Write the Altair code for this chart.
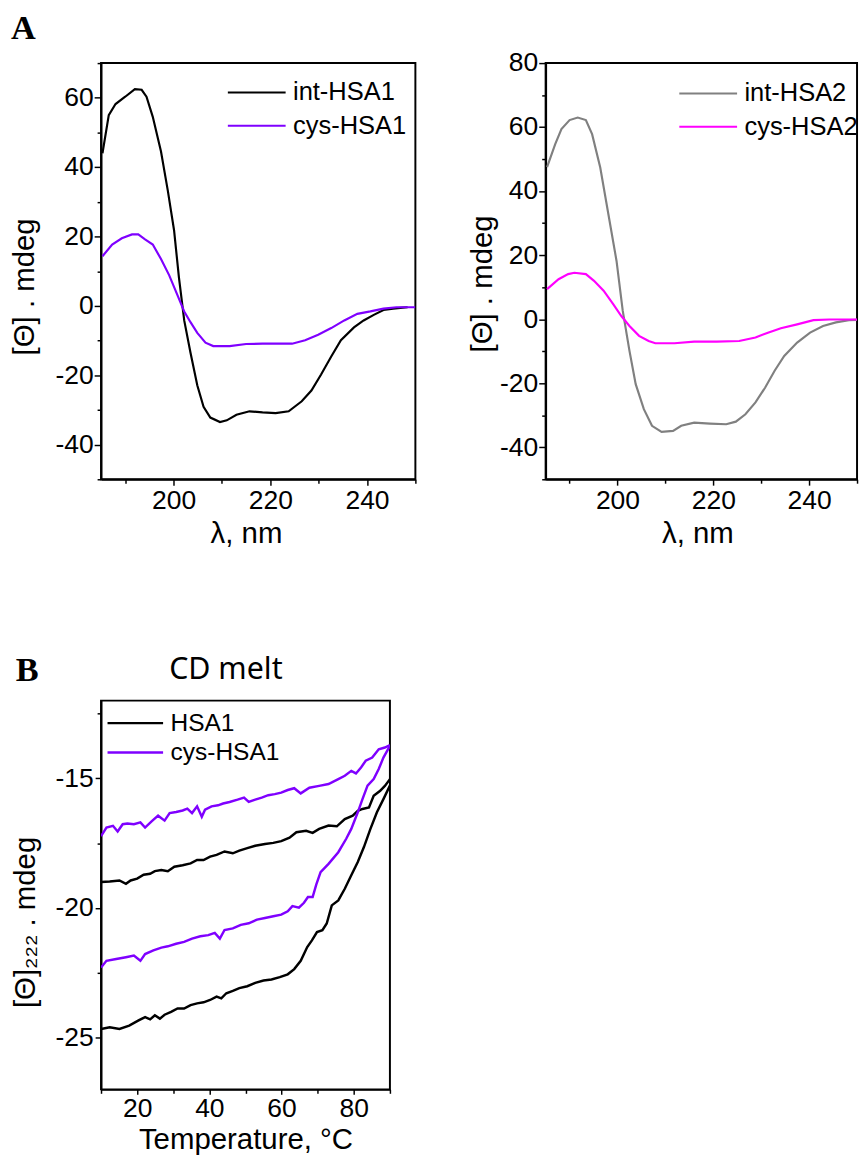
import altair as alt
import pandas as pd

FONT = "Liberation Sans"

# ---------------- Panel A (left): far-UV CD spectra ----------------
a1_int_x = [185.3, 186.6, 188, 190, 192, 193.4, 194.4, 195.7, 197.4, 198.8, 200.1, 201.1, 202.2,
            203.5, 204.9, 206.2, 207.6, 209.6, 211, 213, 215.7, 218.4, 221.1, 223.8, 226.5, 228.5,
            230.5, 232.6, 234.6, 237.3, 239.3, 241.4, 243.4, 245.4, 247.4, 248.4]
a1_int_y = [44, 55, 58.2, 60.3, 62.5, 62.3, 60.3, 54.5, 44.5, 33.3, 21.8, 8.3, -4.2,
            -13.5, -22.9, -29.1, -32.2, -33.5, -33, -31.4, -30.4, -30.7, -30.9, -30.4, -27.5, -24.4,
            -19.8, -14.6, -9.9, -6.2, -4.2, -2.6, -1.2, -0.8, -0.5, -0.4]
a1_cys_x = [185.3, 187.3, 189.3, 191.4, 192.7, 194.1, 195.7, 197.4, 199.1, 200.8, 202.2, 203.5,
            204.9, 206.6, 208.2, 211.6, 215, 218.4, 221.8, 224.5, 227.2, 229.9, 232.6, 235.3, 238,
            240.7, 243.4, 246.1, 250]
a1_cys_y = [14.3, 17.7, 19.5, 20.6, 20.6, 19.2, 17.7, 13.5, 8.8, 3.1, -1.6, -4.7,
            -7.8, -10.6, -11.6, -11.6, -11, -10.9, -10.9, -10.9, -9.9, -8.3, -6.4, -4.2, -2.3,
            -1.6, -0.8, -0.4, -0.4]

# ---------------- Panel A (right) ----------------
a2_int_x = [185.3, 187, 188.3, 190, 191.7, 193.4, 194.7, 196.4, 198.1, 199.8, 201.1, 202.5, 203.8,
            205.5, 207.2, 209.2, 211.6, 213.3, 216, 219.3, 222.7, 224.7, 226.7, 228.8, 230.8, 232.8,
            234.8, 237.5, 240.2, 242.9, 245.6, 248.3, 250]
a2_int_y = [47.5, 54.7, 59.4, 62.2, 63, 62.2, 57.8, 47.4, 32.8, 18.2, 2.6, -9.9, -20.3,
            -28.1, -33.3, -35.2, -34.9, -33.3, -32.3, -32.6, -32.8, -32, -29.7, -26, -21.4, -16.1,
            -11.5, -7.3, -4.2, -2.1, -1, -0.3, -0.2]
a2_cys_x = [185.3, 187.7, 189.7, 191, 193.4, 195.1, 197.1, 199.1, 200.8, 202.5, 204.5, 206.5, 207.9,
            211.9, 216, 220.7, 225.4, 228.8, 231.4, 234.1, 237.5, 240.9, 244.2, 250]
a2_cys_y = [9.4, 12.5, 14.1, 14.5, 14.1, 12, 8.9, 4.7, 1, -2.1, -5.2, -6.8, -7.5,
            -7.5, -7, -7, -6.8, -5.7, -4.2, -2.8, -1.6, -0.3, -0.1, -0.1]

# ---------------- Panel B: CD melt at 222 nm ----------------
b_cys_top_x = [10, 11.5, 13.3, 14.6, 16, 17.3, 19.1, 20.9, 22.2, 24, 25.8, 27.6, 29, 30.8, 32.6, 33.9,
               35.2, 36.6, 37.9, 38.8, 40.6, 42.4, 43.8, 45.6, 47.8, 49.6, 50.9, 52.7, 54.5, 56.3,
               58.1, 59.9, 61.7, 63.5, 65.3, 67.7, 70.4, 73.0, 75.7, 77.5, 79.3, 80.6, 82.0, 83.3,
               85.1, 86.9, 88.6, 90]
b_cys_top_y = [-17.23, -16.9, -16.83, -17.05, -16.77, -16.74, -16.77, -16.7, -16.9, -16.66, -16.44,
               -16.63, -16.34, -16.3, -16.24, -16.17, -16.34, -16.08, -16.48, -16.21, -16.08, -16.04,
               -15.97, -15.91, -15.82, -15.74, -15.91, -15.82, -15.74, -15.65, -15.61, -15.55, -15.45,
               -15.38, -15.58, -15.36, -15.29, -15.22, -15.03, -14.9, -14.71, -14.81, -14.58, -14.32,
               -14.2, -13.88, -13.81, -13.72]
b_hsa_top_x = [10, 12.4, 15.1, 16.9, 18.2, 20, 21.8, 23.6, 24.9, 26.7, 28.5, 30.3, 32.6, 34.8, 36.6,
               38.4, 40.2, 42, 44.2, 46.5, 48.3, 50.5, 52.7, 55.4, 57.7, 59.9, 62.2, 64.1, 66.8, 68.6,
               70.4, 73.0, 75.3, 77.5, 79.7, 81.1, 82.4, 84.2, 85.5, 87.3, 88.6, 90]
b_hsa_top_y = [-19.0, -18.98, -18.94, -19.07, -18.94, -18.87, -18.72, -18.68, -18.58, -18.54, -18.58,
               -18.41, -18.35, -18.28, -18.15, -18.15, -18.02, -17.95, -17.82, -17.89, -17.79, -17.69,
               -17.6, -17.53, -17.49, -17.42, -17.29, -17.08, -17.02, -17.1, -16.95, -16.82, -16.85,
               -16.57, -16.44, -16.25, -16.18, -16.12, -15.67, -15.48, -15.29, -15.03]
b_cys_low_x = [10, 11.5, 14.2, 16.9, 19.1, 20.9, 22.2, 24.5, 26.7, 28.5, 30.8, 33, 35.2, 37.5, 39.7,
               41.5, 42.9, 44.2, 46.5, 48.7, 50.9, 53.2, 55.4, 57.7, 59.9, 61.7, 63, 64.8, 66.2, 67.3,
               68.6, 69.6, 70.8, 73.0, 75.7, 77.9, 79.3, 81.1, 82.4, 83.8, 85.5, 86.9, 88.2, 90]
b_cys_low_y = [-22.3, -22.04, -21.97, -21.9, -21.84, -22.04, -21.78, -21.64, -21.53, -21.48, -21.38,
               -21.31, -21.18, -21.09, -21.05, -20.96, -21.18, -20.85, -20.79, -20.65, -20.59, -20.45,
               -20.39, -20.32, -20.26, -20.13, -19.93, -19.99, -19.8, -19.58, -19.58, -19.1, -18.62,
               -18.3, -17.85, -17.33, -16.95, -16.31, -15.8, -15.28, -15.03, -14.64, -14.2, -13.75]
b_hsa_low_x = [10, 12.4, 15.1, 17.8, 20.4, 22.2, 23.6, 24.9, 26.3, 27.6, 29.4, 31.2, 33, 34.8, 36.6,
               38.4, 40.2, 42, 43.3, 44.7, 46.5, 48.3, 50.5, 52.7, 55, 57.2, 59.5, 61.7, 63.5, 65.3,
               67.1, 68.4, 69.8, 71.3, 72.5, 73.9, 75.7, 77.5, 79.3, 81.1, 82.8, 84.6, 86.4, 88.2, 90]
b_hsa_low_y = [-24.67, -24.6, -24.67, -24.54, -24.34, -24.21, -24.3, -24.14, -24.27, -24.12, -24.01,
               -23.88, -23.88, -23.75, -23.68, -23.64, -23.55, -23.42, -23.49, -23.29, -23.2, -23.09,
               -23.02, -22.89, -22.8, -22.76, -22.67, -22.56, -22.36, -22.04, -21.51, -21.25, -20.93,
               -20.86, -20.6, -19.9, -19.71, -19.26, -18.74, -18.23, -17.65, -16.95, -16.31, -15.8,
               -15.28]

a_x_ticks = [190, 200, 210, 220, 230, 240, 250]
a1_y_ticks = [-50, -40, -30, -20, -10, 0, 10, 20, 30, 40, 50, 60, 70]
a2_y_ticks = [-50, -40, -30, -20, -10, 0, 10, 20, 30, 40, 50, 60, 70, 80]
b_x_ticks = [10, 20, 30, 40, 50, 60, 70, 80, 90]
b_y_ticks = [-25, -22.5, -20, -17.5, -15, -12.5]

VIEW = alt.ViewBackground(stroke="black", strokeWidth=2, fill="white")
LINE_SYMBOL = "M-2.5,0H2.5"


def frame(xs_list, ys_list, names, curves):
    rows = []
    for xs, ys, n, c in zip(xs_list, ys_list, names, curves):
        for x, y in zip(xs, ys):
            rows.append({"x": x, "y": y, "series": n, "curve": c})
    return pd.DataFrame(rows)


def axis(values, major, title, label_size, title_size, tick_major, tick_minor, **kw):
    return alt.Axis(
        values=values,
        labelExpr=f"datum.value % {major} == 0 ? '' + datum.value : ''",
        tickSize={"condition": {"test": f"datum.value % {major} == 0", "value": tick_major},
                  "value": tick_minor},
        title=title, grid=False, labelFont=FONT, titleFont=FONT,
        labelFontSize=label_size, titleFontSize=title_size, titleFontWeight="normal",
        labelColor="black", titleColor="black", domainColor="black", domainWidth=2,
        tickColor="black", tickWidth=1.5, labelFlush=False, labelOverlap=False, **kw)


def legend(lx, ly, size, font_size, row_pad, lab_off, sw=2):
    return alt.Legend(orient="none", legendX=lx, legendY=ly, title=None, padding=0,
                      symbolType=LINE_SYMBOL, symbolSize=size, symbolStrokeWidth=sw,
                      labelFont=FONT, labelFontSize=font_size, labelColor="black",
                      labelOffset=lab_off, rowPadding=row_pad, labelLimit=0)


def spectrum(df, names, colors, ydom, yticks, width, height, lx, ly, lab_off, ytpad, ytY, xtX):
    return alt.Chart(df).mark_line(strokeWidth=2.2, clip=True).encode(
        x=alt.X("x:Q", scale=alt.Scale(domain=[185, 250], nice=False, zero=False),
                axis=axis(a_x_ticks, 20, "λ, nm", 27, 30, 6, 4, labelPadding=3,
                          titlePadding=6, titleX=xtX)),
        y=alt.Y("y:Q", scale=alt.Scale(domain=ydom, nice=False, zero=False),
                axis=axis(yticks, 20, "[Θ] . mdeg", 27, 30, 7, 4, labelPadding=1,
                          titlePadding=ytpad, titleY=ytY)),
        color=alt.Color("series:N", scale=alt.Scale(domain=names, range=colors),
                        legend=legend(lx, ly, 557, 26, 8, lab_off)),
        detail="curve:N",
    ).properties(width=width, height=height, view=VIEW)


df_a1 = frame([a1_int_x, a1_cys_x], [a1_int_y, a1_cys_y], ["int-HSA1", "cys-HSA1"], ["a", "b"])
df_a2 = frame([a2_int_x, a2_cys_x], [a2_int_y, a2_cys_y], ["int-HSA2", "cys-HSA2"], ["a", "b"])
df_b = frame([b_hsa_top_x, b_cys_top_x, b_cys_low_x, b_hsa_low_x],
             [b_hsa_top_y, b_cys_top_y, b_cys_low_y, b_hsa_low_y],
             ["HSA1", "cys-HSA1", "cys-HSA1", "HSA1"], ["h1", "c1", "c2", "h2"])

a1 = spectrum(df_a1, ["int-HSA1", "cys-HSA1"], ["#000000", "#7F00FF"], [-50, 70], a1_y_ticks,
              321, 425, 146, 17, 24, 16, 228, 148)
a2 = spectrum(df_a2, ["int-HSA2", "cys-HSA2"], ["#808080", "#FF00FF"], [-50, 80], a2_y_ticks,
              318, 425, 153, 18, 24, 2, 225, 155)

b = alt.Chart(df_b).mark_line(strokeWidth=2.5, clip=True).encode(
    x=alt.X("x:Q", scale=alt.Scale(domain=[10, 90], nice=False, zero=False),
            axis=axis(b_x_ticks, 20, "Temperature, °C", 27, 30, 5, 4, labelPadding=2,
                      titlePadding=3)),
    y=alt.Y("y:Q", scale=alt.Scale(domain=[-27, -12], nice=False, zero=False),
            axis=axis(b_y_ticks, 5, "[Θ]₂₂₂ . mdeg", 27, 30, 6, 4, labelPadding=2,
                      titlePadding=15, titleY=226)),
    color=alt.Color("series:N", scale=alt.Scale(domain=["HSA1", "cys-HSA1"],
                                                range=["#000000", "#7F00FF"]),
                    legend=legend(22, 10, 515, 25, 4, 23, 2.5)),
    detail="curve:N",
).properties(
    width=295, height=397, view=VIEW,
    title=alt.TitleParams("CD melt", font="Noto Sans", fontSize=31, fontWeight="normal",
                          color="black", anchor="middle", dx=-20, offset=14),
)

top = alt.hconcat(a1, a2, spacing=50).resolve_scale(color="independent").properties(
    title=alt.TitleParams("A", anchor="start", font="Liberation Serif", fontSize=35,
                          fontWeight="bold", color="black", offset=3, dx=2))

bottom = alt.vconcat(b).properties(
    title=alt.TitleParams("B", anchor="start", font="Liberation Serif", fontSize=35,
                          fontWeight="bold", color="black", offset=-35, dx=6))

chart = alt.vconcat(top, bottom, spacing=106).resolve_scale(color="independent").properties(
    padding={"left": 0, "top": -9, "right": 0, "bottom": 0}
).configure_view(stroke="black", strokeWidth=2)

chart.save("out.html", embed_options={"renderer": "svg", "actions": False})
